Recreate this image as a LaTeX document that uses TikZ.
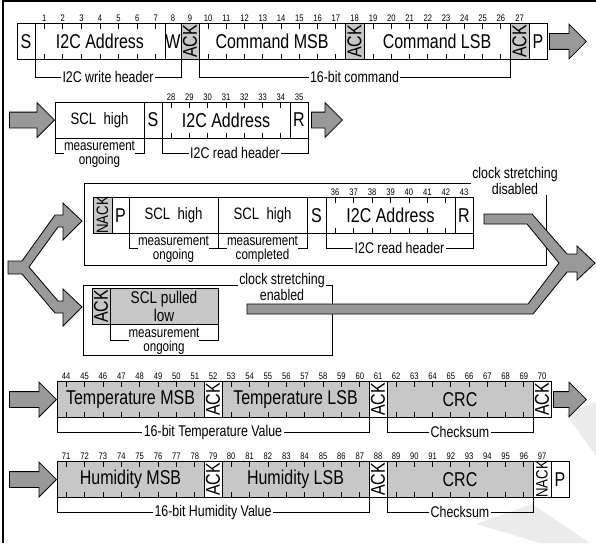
\documentclass[tikz,border=0pt]{standalone}
\usepackage{fontspec}
\setmainfont{Liberation Sans}[FakeStretch=0.8]
\usetikzlibrary{calc,shapes.arrows}

\definecolor{fieldgray}{gray}{0.78}
\definecolor{arrowgray}{gray}{0.6}
\definecolor{markgray}{gray}{0.92}

\newcommand\bigfont{\fontsize{20}{20}\selectfont}
\newcommand\midfont{\fontsize{16.5}{16.5}\selectfont}
\newcommand\smallfont{\fontsize{15.5}{13.5}\selectfont}
\newcommand\twofont{\fontsize{14.5}{14.5}\selectfont}
\newcommand\numfont{\fontsize{9.5}{10}\selectfont}
\newcommand\ackfont{\fontsize{16.5}{16.5}\selectfont}

% ticks and bit numbers of a field: node, bits, first bit
\newcommand\bitmarks[3]{%
  \foreach \k in {1,...,#2}{%
    \coordinate (tn) at ($(#1.north west)!{(\k-0.5)/#2}!(#1.north east)$);
    \coordinate (ts) at ($(#1.south west)!{(\k-0.5)/#2}!(#1.south east)$);
    \draw (tn) -- ++(0,5.5) (ts) -- ++(0,-5.5);
    \pgfmathtruncatemacro\bitno{#3+\k-1}
    \node[bitnum] at (tn) {\bitno};
  }}

\begin{document}
\begin{tikzpicture}[
  x=1pt, y=-1pt, line width=0.8pt,
  field/.style={draw, anchor=west, minimum height=36pt, inner sep=0pt, outer sep=0pt, font=\bigfont},
  grayfield/.style={field, fill=fieldgray},
  bitnum/.style={anchor=south, inner sep=0pt, yshift=1.5pt, font=\numfont},
  lbl/.style={fill=white, inner sep=1.5pt, font=\smallfont},
  lbltwo/.style={lbl, align=center, inner sep=0pt, yshift=-1.5pt, font=\twofont},
  fatarrow/.style={single arrow, draw, fill=arrowgray, inner sep=7.5pt,
    single arrow head extend=9.5pt, minimum height=#1},
  bigarrow/.style={draw, fill=arrowgray, line join=miter}
]
  \useasboundingbox (0,0) rectangle (596,543);

  % watermark
  \fill[markgray] (566,414) -- (596,402) -- (596,456) -- cycle;
  \fill[markgray] (476,524) -- (532,504) -- (590,543) -- (540,543) -- cycle;

  % outer frame
  \draw[line width=2.5pt] (3,543) -- (3,1.25) -- (596,1.25);

  % row 1: write header and command
  \node[field, minimum width=18pt] (s1) at (17,41.5) {S};
  \node[field, minimum width=130pt] (adrw) at (s1.east) {I2C Address};
  \node[field, minimum width=16pt] (w1) at (adrw.east) {W};
  \node[grayfield, minimum width=18pt] (ack1) at (w1.east) {\rotatebox{90}{ACK}};
  \node[field, minimum width=146pt] (cmdm) at (ack1.east) {Command MSB};
  \node[grayfield, minimum width=19pt] (ack2) at (cmdm.east) {\rotatebox{90}{ACK}};
  \node[field, minimum width=146pt] (cmdl) at (ack2.east) {Command LSB};
  \node[grayfield, minimum width=19pt] (ack3) at (cmdl.east) {\rotatebox{90}{ACK}};
  \node[field, minimum width=18pt] (p1) at (ack3.east) {P};
  \node[fatarrow=37pt, anchor=tail] (arr1) at ($(p1.east)+(2,0)$) {};

  \draw (adrw.south west) -- ++(0,17.5) -| (w1.south east)
    node[lbl, pos=.25] {I2C write header};
  \draw (cmdm.south west) -- ++(0,17.5) -| (ack3.south west)
    node[lbl, pos=.25] {16-bit command};

  % row 2: read header, measurement ongoing
  \node[field, minimum width=89pt, font=\midfont] (scl1) at (55,120) {SCL\ \ high};
  \node[field, minimum width=18pt] (s2) at (scl1.east) {S};
  \node[field, minimum width=128pt] (adrr) at (s2.east) {I2C Address};
  \node[field, minimum width=18pt] (r2) at (adrr.east) {R};
  \node[fatarrow=45pt, anchor=tip] (arr2) at (scl1.west) {};
  \node[fatarrow=31pt, anchor=tail] (arr3) at ($(r2.east)+(3,0)$) {};

  \draw (scl1.south west) -- ++(0,15) -| (scl1.south east)
    node[lbltwo, pos=.25] {measurement\\ongoing};
  \draw (adrr.south west) -- ++(0,15) -| (r2.south east)
    node[lbl, pos=.25] {I2C read header};

  % row 3: clock stretching disabled
  \node[draw, minimum width=462pt, minimum height=82pt, inner sep=0pt,
    anchor=north west] (offbox) at (84,183) {};
  \node[lbl, align=center, font=\fontsize{15.5}{12}\selectfont, inner sep=1pt]
    (offtxt) at (515,181) {clock stretching\\disabled};
  \node[grayfield, minimum width=19pt, font=\ackfont] (nack3) at (93,215.5) {\rotatebox{90}{NACK}};
  \node[field, minimum width=17pt] (p3) at (nack3.east) {P};
  \node[field, minimum width=89pt, font=\midfont] (scl3a) at (p3.east) {SCL\ \ high};
  \node[field, minimum width=89pt, font=\midfont] (scl3b) at (scl3a.east) {SCL\ \ high};
  \node[field, minimum width=19pt] (s3) at (scl3b.east) {S};
  \node[field, minimum width=129pt] (adr3) at (s3.east) {I2C Address};
  \node[field, minimum width=18pt] (r3) at (adr3.east) {R};

  \draw (scl3a.south west) -- ++(0,14.5) -| (scl3a.south east)
    node[lbltwo, pos=.25] {measurement\\ongoing};
  \draw (scl3b.south west) -- ++(0,14.5) -| (scl3b.south east)
    node[lbltwo, pos=.25] {measurement\\completed};
  \draw (adr3.south west) -- ++(0,14.5) -| (r3.south east)
    node[lbl, pos=.25] {I2C read header};

  % clock stretching enabled
  \node[draw, minimum width=249pt, minimum height=70pt, inner sep=0pt,
    anchor=north west] (onbox) at (83,285) {};
  \node[lbl, align=center, font=\fontsize{15.5}{12}\selectfont, inner sep=1pt]
    (ontxt) at (282,287) {clock stretching\\enabled};
  \node[grayfield, minimum width=18pt] (ack4) at (92,306.5) {\rotatebox{90}{ACK}};
  \node[grayfield, minimum width=108pt, align=center,
    font=\fontsize{17}{18}\selectfont] (sclp) at (ack4.east) {SCL pulled\\low};
  \draw (sclp.south west) -- ++(0,15.5) -| (sclp.south east)
    node[lbltwo, pos=.25] {measurement\\ongoing};

  % split and merge arrows
  \draw[bigarrow] (8,261) -- (22,261) -- (55,215) -- (63,215) -- (63,203)
    -- (82,221) -- (63,240) -- (63,227) -- (58,227) -- (29,267) -- (58,301)
    -- (63,301) -- (63,289) -- (82,307) -- (63,326) -- (63,313) -- (55,313)
    -- (22,274) -- (8,274) -- cycle;
  \draw[bigarrow] (484,214) -- (532,214) -- (567,254) -- (577,254) -- (577,246)
    -- (595,263) -- (577,280) -- (577,272) -- (567,272) -- (533,314)
    -- (247,314) -- (247,304) -- (528,304) -- (559,263) -- (527,224)
    -- (484,224) -- cycle;

  % row 4: temperature
  \node[grayfield, minimum width=147pt] (tmsb) at (57,399.5) {Temperature MSB};
  \node[field, minimum width=18pt] (ack5) at (tmsb.east) {\rotatebox{90}{ACK}};
  \node[grayfield, minimum width=147pt] (tlsb) at (ack5.east) {Temperature LSB};
  \node[field, minimum width=18pt] (ack6) at (tlsb.east) {\rotatebox{90}{ACK}};
  \node[grayfield, minimum width=146pt] (crc1) at (ack6.east) {CRC};
  \node[field, minimum width=18pt] (ack7) at (crc1.east) {\rotatebox{90}{ACK}};
  \node[fatarrow=47pt, anchor=tip] (arr4) at (tmsb.west) {};
  \node[fatarrow=33pt, anchor=tail] (arr5) at ($(ack7.east)+(2,0)$) {};

  \draw (tmsb.south west) -- ++(0,14.5) -| (tlsb.south east)
    node[lbl, pos=.25] {16-bit Temperature Value};
  \draw (crc1.south west) -- ++(0,14.5) -| (crc1.south east)
    node[lbl, pos=.25] {Checksum};

  % row 5: humidity
  \node[grayfield, minimum width=147pt] (hmsb) at (57,479.5) {Humidity MSB};
  \node[field, minimum width=18pt] (ack8) at (hmsb.east) {\rotatebox{90}{ACK}};
  \node[grayfield, minimum width=147pt] (hlsb) at (ack8.east) {Humidity LSB};
  \node[field, minimum width=18pt] (ack9) at (hlsb.east) {\rotatebox{90}{ACK}};
  \node[grayfield, minimum width=146pt] (crc2) at (ack9.east) {CRC};
  \node[field, minimum width=18pt, font=\ackfont] (nack5) at (crc2.east) {\rotatebox{90}{NACK}};
  \node[field, minimum width=18pt] (p5) at (nack5.east) {P};
  \node[fatarrow=47pt, anchor=tip] (arr6) at (hmsb.west) {};

  \draw (hmsb.south west) -- ++(0,14.5) -| (hlsb.south east)
    node[lbl, pos=.25] {16-bit Humidity Value};
  \draw (crc2.south west) -- ++(0,14.5) -| (crc2.south east)
    node[lbl, pos=.25] {Checksum};

  % bit numbers
  \bitmarks{adrw}{7}{1}
  \bitmarks{cmdm}{8}{10}
  \bitmarks{cmdl}{8}{19}
  \bitmarks{adrr}{7}{28}
  \bitmarks{adr3}{7}{36}
  \bitmarks{tmsb}{8}{44}
  \bitmarks{tlsb}{8}{53}
  \bitmarks{crc1}{8}{62}
  \bitmarks{hmsb}{8}{71}
  \bitmarks{hlsb}{8}{80}
  \bitmarks{crc2}{8}{89}
  \foreach \n/\b in {w1/8, ack1/9, ack2/18, ack3/27, r2/35, r3/43, ack5/52,
    ack6/61, ack7/70, ack8/79, ack9/88, nack5/97}
    \node[bitnum] at (\n.north) {\b};
\end{tikzpicture}
\end{document}
